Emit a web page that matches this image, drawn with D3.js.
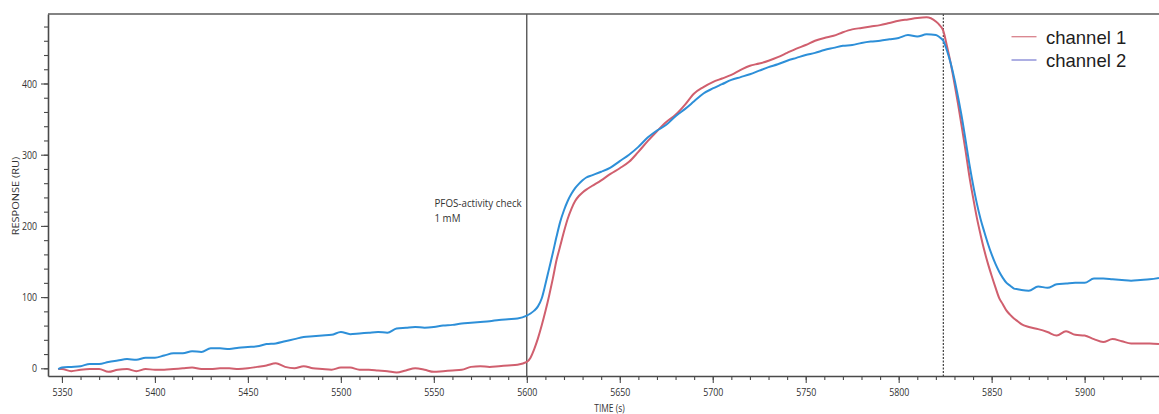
<!DOCTYPE html>
<html>
<head>
<meta charset="utf-8">
<script src="https://cdn.jsdelivr.net/npm/d3@7"></script>
<style>
  html, body { margin: 0; padding: 0; background: #fff; }
  svg { display: block; }
  .tick text, .lbl { font-family: "Open Sans", "Noto Sans", sans-serif; fill: #333; }
</style>
</head>
<body>
<svg id="chart" width="1159" height="414"></svg>
<script>
// Sampling times (s)
const time = [
  5348, 5350, 5355, 5360, 5365, 5370, 5375, 5380, 5385, 5390, 5395, 5400,
  5405, 5410, 5415, 5420, 5425, 5430, 5435, 5440, 5445, 5450,
  5455, 5460, 5465, 5470, 5475, 5480, 5485, 5490, 5495, 5500,
  5505, 5510, 5515, 5520, 5525, 5530, 5535, 5540, 5545, 5550,
  5555, 5560, 5565, 5570, 5575, 5580, 5585, 5590, 5595, 5600,
  5602, 5604, 5606, 5608, 5610, 5612, 5614, 5616, 5618, 5620, 5622, 5624, 5626, 5628, 5630, 5632,
  5635, 5640, 5645, 5650, 5655, 5660, 5665, 5670, 5675, 5680,
  5685, 5690, 5695, 5700, 5705, 5710, 5715, 5720, 5725, 5730,
  5735, 5740, 5745, 5750, 5755, 5760, 5765, 5770, 5775, 5780,
  5785, 5790, 5795, 5800, 5805, 5810, 5815, 5820,
  5822, 5824, 5826, 5828, 5830, 5832, 5834, 5836, 5838, 5840, 5842, 5844,
  5846, 5848, 5850, 5852, 5854, 5856, 5858, 5860, 5862, 5864, 5866,
  5870, 5875, 5880, 5885, 5890, 5895, 5900, 5905, 5910, 5915, 5920, 5925, 5930, 5935, 5940
];

// Response of channel 1 (RU)
const channel1 = [
  -1, -1, -4, -2, -1, -1, -5, -2, -1, -4, -1, -2,
  -2, -1, 0, 1, -1, -1, 0, 0, -1, 0,
  2, 4, 7, 2, 0, 3, 0, -1, -2, 1,
  1, -2, -2, -3, -4, -6, -3, 0, -2, -5,
  -4, -3, -2, 2, 3, 2, 3, 4, 5, 9,
  15, 27, 42, 60, 80, 102, 126, 152, 172, 192, 210, 224, 235, 242, 247, 251,
  256, 264, 273, 281, 290, 304, 319, 333, 346, 356,
  370, 386, 395, 402, 407, 412, 419, 425, 428, 432,
  437, 443, 449, 454, 460, 464, 467, 472, 476, 478,
  480, 482, 485, 488, 490, 492, 493, 487,
  482, 474, 452, 428, 400, 370, 338, 305, 270, 240, 212, 188,
  166, 147, 130, 114, 99, 90, 81, 75, 70, 66, 62,
  58, 55, 51, 46, 52, 47, 46, 41, 37, 41, 38, 35, 35, 35, 34
];

// Response of channel 2 (RU)
const channel2 = [
  -1, 1, 2, 3, 6, 6, 9, 11, 13, 12, 15, 15,
  18, 21, 21, 24, 23, 28, 28, 27, 29, 30,
  31, 34, 35, 38, 41, 44, 45, 46, 47, 51,
  48, 49, 50, 51, 50, 56, 57, 58, 57, 58,
  60, 61, 63, 64, 65, 66, 68, 69, 70, 74,
  77, 81, 87, 98, 118, 140, 162, 185, 206, 222, 235, 245, 253, 259, 264, 268,
  271, 276, 282, 291, 300, 311, 324, 334, 342, 354,
  364, 375, 386, 393, 399, 405, 409, 413, 418, 423,
  427, 432, 436, 440, 443, 447, 450, 453, 454, 457,
  459, 460, 462, 464, 468, 466, 469, 468,
  465, 460, 446, 428, 406, 380, 352, 320, 287, 258, 232, 210,
  192, 175, 160, 147, 136, 127, 120, 116, 112, 111, 110,
  109, 115, 113, 118, 119, 120, 120, 126, 126, 125, 124, 123, 124, 125, 127
];

const seriesNames = ["channel 1", "channel 2"];
const lineColors = ["#d05f6e", "#2d8fd8"];
const legendColors = ["#d9828c", "#8084d4"];

const majorX = [5350, 5400, 5450, 5500, 5550, 5600, 5650, 5700, 5750, 5800, 5850, 5900];
const minorX = [];
for (let t = 5350; t <= 5940; t += 10) minorX.push(t);
const majorY = [0, 100, 200, 300, 400];
const minorY = [];
for (let v = 0; v <= 480; v += 20) minorY.push(v);

const injectionStart = 5600;
const injectionEnd = 5824;
const noteLines = ["PFOS-activity check", "1 mM"];

const plot = { left: 48, top: 14, right: 1159, bottom: 376 };
const squeeze = 0.8; // narrow rendering of the axis text

const svg = d3.select("#chart");
const x = d3.scaleLinear().domain([5342.5, 5940]).range([plot.left, plot.right]);
const y = d3.scaleLinear().domain([-10.8, 497.6]).range([plot.bottom, plot.top]);

svg.append("defs").append("clipPath").attr("id", "plotClip")
  .append("rect")
  .attr("x", plot.left).attr("y", plot.top)
  .attr("width", plot.right - plot.left).attr("height", plot.bottom - plot.top);

// Injection markers
svg.append("line")
  .attr("x1", x(injectionStart)).attr("x2", x(injectionStart))
  .attr("y1", plot.top).attr("y2", plot.bottom)
  .attr("stroke", "#2a2a2a").attr("stroke-width", 1.1);
svg.append("line")
  .attr("x1", x(injectionEnd)).attr("x2", x(injectionEnd))
  .attr("y1", plot.top).attr("y2", plot.bottom)
  .attr("stroke", "#2a2a2a").attr("stroke-width", 1.1)
  .attr("stroke-dasharray", "2,1.5");

// Sensorgram traces
const line = d3.line()
  .x(d => x(d[0])).y(d => y(d[1]))
  .curve(d3.curveMonotoneX);
[channel1, channel2].forEach((vals, i) => {
  svg.append("path")
    .datum(time.map((t, k) => [t, vals[k]]))
    .attr("clip-path", "url(#plotClip)")
    .attr("fill", "none")
    .attr("stroke", lineColors[i])
    .attr("stroke-width", 2)
    .attr("stroke-linejoin", "round")
    .attr("d", line);
});

// Frame: top line, left and bottom axes
svg.append("line")
  .attr("x1", plot.left).attr("x2", plot.right)
  .attr("y1", plot.top).attr("y2", plot.top)
  .attr("stroke", "#5a5a5a").attr("stroke-width", 1.6);

function styleAxis(g) {
  g.select(".domain").attr("stroke", "#4a4a4a").attr("stroke-width", 1.6);
  g.selectAll(".tick line").attr("stroke", "#4a4a4a").attr("stroke-width", 1.1);
}

const xMinor = svg.append("g").attr("transform", `translate(0,${plot.bottom})`)
  .call(d3.axisBottom(x).tickValues(minorX).tickSize(4).tickSizeOuter(0).tickFormat(""));
styleAxis(xMinor);
const xMajor = svg.append("g").attr("transform", `translate(0,${plot.bottom})`)
  .call(d3.axisBottom(x).tickValues(majorX).tickSize(7).tickSizeOuter(0).tickFormat(d3.format("d")));
styleAxis(xMajor);
xMajor.select(".domain").remove();
xMajor.selectAll(".tick text")
  .attr("y", 20.5).attr("dy", null)
  .attr("font-size", 11)
  .attr("transform", `scale(${squeeze},1)`);

const yMinor = svg.append("g").attr("transform", `translate(${plot.left},0)`)
  .call(d3.axisLeft(y).tickValues(minorY).tickSize(4).tickSizeOuter(0).tickFormat(""));
styleAxis(yMinor);
const yMajor = svg.append("g").attr("transform", `translate(${plot.left},0)`)
  .call(d3.axisLeft(y).tickValues(majorY).tickSize(7).tickSizeOuter(0).tickFormat(d3.format("d")));
styleAxis(yMajor);
yMajor.select(".domain").remove();
yMajor.selectAll(".tick text")
  .attr("x", -11 / squeeze)
  .attr("font-size", 11)
  .attr("transform", `scale(${squeeze},1)`);

// Axis titles
svg.append("text").attr("class", "lbl")
  .attr("transform", `translate(${(plot.left + plot.right) / 2 + 6},411.5) scale(${squeeze},1)`)
  .attr("text-anchor", "middle").attr("font-size", 10.5)
  .text("TIME (s)");
svg.append("text").attr("class", "lbl")
  .attr("transform", `translate(18.5,196) rotate(-90) scale(1,${squeeze})`)
  .attr("text-anchor", "middle").attr("font-size", 11)
  .text("RESPONSE (RU)");

// Injection note
const note = svg.append("text").attr("class", "lbl")
  .attr("transform", `translate(434.5,207.3) scale(0.85,1)`)
  .attr("font-size", 11.5);
noteLines.forEach((s, i) => {
  note.append("tspan").attr("x", 0).attr("dy", i === 0 ? 0 : 14.4).text(s);
});

// Legend
const legend = svg.append("g").attr("transform", "translate(1011.5,36.7)");
seriesNames.forEach((name, i) => {
  const row = legend.append("g").attr("transform", `translate(0,${i * 23.3})`);
  row.append("line").attr("x1", 0).attr("x2", 25).attr("y1", 0).attr("y2", 0)
    .attr("stroke", legendColors[i]).attr("stroke-width", 1.3);
  row.append("text")
    .attr("x", 34.5).attr("y", 7.2)
    .attr("font-family", "'Liberation Sans', Arial, sans-serif")
    .attr("font-size", 18.5).attr("fill", "#1e1e1e")
    .text(name);
});
</script>
</body>
</html>
